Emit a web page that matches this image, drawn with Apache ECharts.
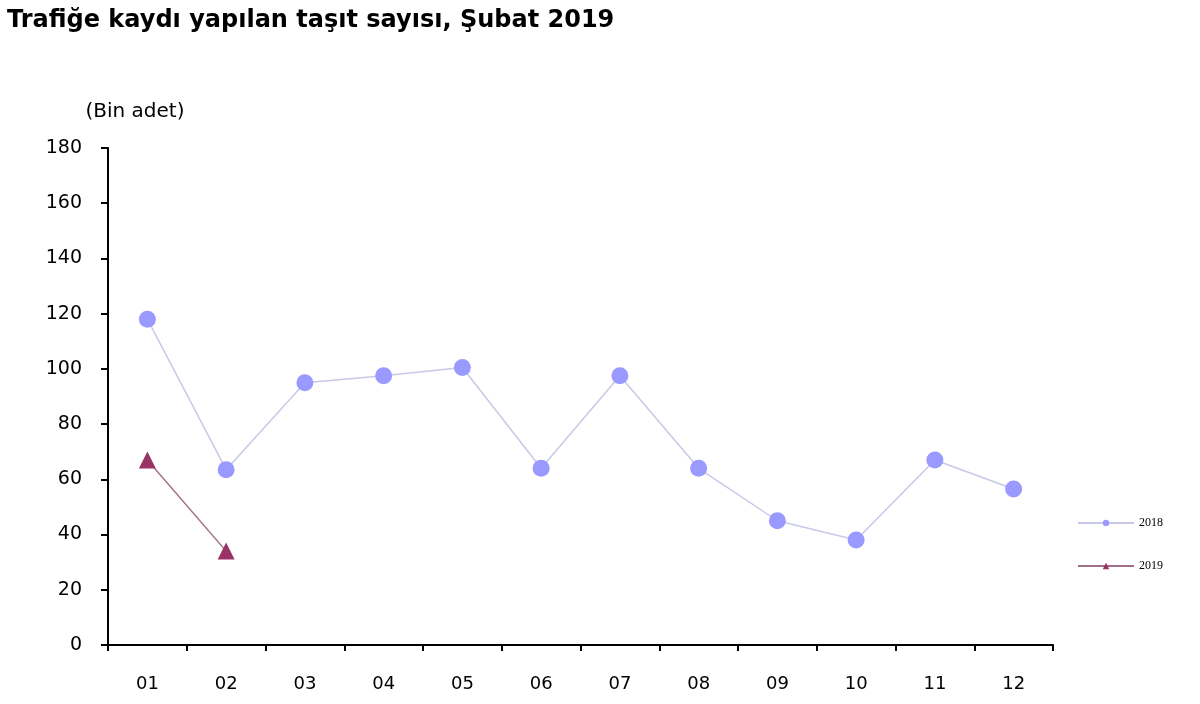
<!DOCTYPE html>
<html>
<head>
<meta charset="utf-8">
<script src="https://cdn.jsdelivr.net/npm/echarts@6/dist/echarts.min.js"></script>
<style>
  html, body { margin: 0; padding: 0; background: #fff; }
  #chart { width: 1200px; height: 704px; }
</style>
</head>
<body>
<div id="chart"></div>
<script>
const months = ["01", "02", "03", "04", "05", "06", "07", "08", "09", "10", "11", "12"]
const values2018 = [118, 63.5, 95, 97.5, 100.5, 64, 97.5, 64, 45, 38, 67, 56.5]
const values2019 = [67, 34]
const yTicks = [0, 20, 40, 60, 80, 100, 120, 140, 160, 180]

const chart = echarts.init(document.getElementById("chart"))

chart.setOption({
  backgroundColor: "#fff",
  animation: false,
  title: {
    text: "Trafiğe kaydı yapılan taşıt sayısı, Şubat 2019",
    left: 2,
    top: 4,
    textStyle: { fontFamily: "DejaVu Sans", fontSize: 24, fontWeight: "bold", color: "#000" }
  },
  grid: { left: 108, right: 147, top: 148, bottom: 59 },
  legend: {
    orient: "vertical",
    left: 1072,
    top: 512,
    itemGap: 31,
    itemWidth: 56,
    itemHeight: 8,
    textStyle: { fontFamily: "Liberation Serif", fontSize: 12, color: "#000" },
    data: ["2018", "2019"]
  },
  xAxis: {
    type: "category",
    data: months,
    boundaryGap: true,
    axisLine: { lineStyle: { color: "#000", width: 2 } },
    axisTick: { show: true, length: 6, lineStyle: { color: "#000", width: 2 } },
    axisLabel: { color: "#000", fontFamily: "DejaVu Sans", fontSize: 18, margin: 30 }
  },
  yAxis: {
    type: "value",
    min: yTicks[0],
    max: yTicks[yTicks.length - 1],
    interval: 20,
    name: "(Bin adet)",
    nameLocation: "end",
    nameGap: 26,
    nameTextStyle: { color: "#000", fontFamily: "DejaVu Sans", fontSize: 20, align: "center", padding: [0, 0, 0, 54] },
    axisLine: { show: true, lineStyle: { color: "#000", width: 2 } },
    axisTick: { show: true, length: 7, lineStyle: { color: "#000", width: 2 } },
    splitLine: { show: false },
    axisLabel: { color: "#000", fontFamily: "DejaVu Sans", fontSize: 19, margin: 26 }
  },
  series: [
    {
      name: "2018",
      type: "line",
      data: values2018,
      symbol: "circle",
      symbolSize: 17,
      itemStyle: { color: "#9999ff" },
      lineStyle: { color: "#c8c8e8", width: 1.5 }
    },
    {
      name: "2019",
      type: "line",
      data: values2019,
      symbol: "triangle",
      symbolSize: 17,
      itemStyle: { color: "#993366" },
      lineStyle: { color: "#a07088", width: 1.5 }
    }
  ]
})
</script>
</body>
</html>
